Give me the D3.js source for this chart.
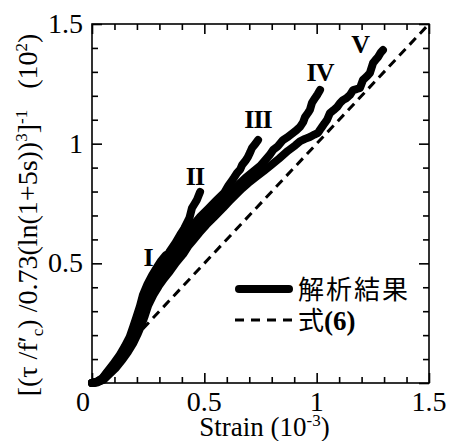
<!DOCTYPE html>
<html>
<head>
<meta charset="utf-8">
<script src="https://cdn.jsdelivr.net/npm/d3@7"></script>
<style>
  html, body { margin: 0; padding: 0; background: #fff; }
  svg { display: block; }
</style>
</head>
<body>
<svg id="chart" width="449" height="441"></svg>
<script>
// Analysis results: one trace per loading stage, [strain (10^-3), value (10^2)]
const curveI = [[0,0],[0.02,0.005],[0.046,0.02],[0.068,0.047],[0.094,0.078],[0.124,0.118],[0.146,0.153],[0.168,0.193],[0.183,0.234],[0.196,0.27],[0.213,0.32],[0.226,0.366],[0.247,0.413],[0.268,0.451],[0.291,0.486],[0.308,0.511],[0.328,0.534]];
const curveII = [[0,0],[0.021,0.005],[0.047,0.019],[0.069,0.045],[0.096,0.075],[0.126,0.114],[0.148,0.149],[0.171,0.187],[0.187,0.225],[0.2,0.262],[0.218,0.312],[0.231,0.358],[0.252,0.404],[0.274,0.443],[0.297,0.477],[0.318,0.509],[0.344,0.547],[0.372,0.586],[0.394,0.622],[0.41,0.645],[0.423,0.669],[0.434,0.69],[0.44,0.712],[0.445,0.731],[0.456,0.748],[0.467,0.765],[0.474,0.782],[0.481,0.798]];
const curveIII = [[0,0],[0.022,0.004],[0.049,0.017],[0.071,0.042],[0.098,0.071],[0.129,0.109],[0.151,0.142],[0.174,0.18],[0.191,0.217],[0.205,0.251],[0.223,0.301],[0.236,0.347],[0.258,0.393],[0.28,0.43],[0.303,0.464],[0.325,0.493],[0.352,0.531],[0.383,0.568],[0.405,0.606],[0.423,0.627],[0.45,0.66],[0.481,0.694],[0.516,0.727],[0.556,0.765],[0.588,0.794],[0.608,0.826],[0.628,0.852],[0.645,0.877],[0.66,0.893],[0.668,0.911],[0.684,0.93],[0.694,0.944],[0.705,0.966],[0.712,0.982],[0.726,0.998],[0.739,1.015]];
const curveIV = [[0,0],[0.023,0.003],[0.05,0.015],[0.073,0.038],[0.101,0.066],[0.132,0.104],[0.155,0.136],[0.178,0.172],[0.196,0.208],[0.211,0.243],[0.229,0.292],[0.243,0.336],[0.265,0.381],[0.288,0.418],[0.312,0.452],[0.335,0.481],[0.362,0.518],[0.394,0.556],[0.417,0.592],[0.437,0.614],[0.465,0.647],[0.496,0.681],[0.531,0.714],[0.57,0.752],[0.602,0.782],[0.628,0.807],[0.655,0.832],[0.682,0.856],[0.716,0.882],[0.75,0.908],[0.77,0.93],[0.79,0.952],[0.806,0.974],[0.828,0.99],[0.85,1.015],[0.872,1.028],[0.895,1.045],[0.912,1.058],[0.926,1.07],[0.94,1.09],[0.948,1.111],[0.961,1.128],[0.97,1.141],[0.979,1.17],[0.993,1.191],[1.004,1.206],[1.015,1.224]];
const curveV = [[0,0],[0.024,0.003],[0.051,0.013],[0.075,0.035],[0.104,0.061],[0.136,0.098],[0.16,0.13],[0.183,0.165],[0.201,0.2],[0.217,0.235],[0.235,0.281],[0.25,0.324],[0.273,0.368],[0.297,0.405],[0.321,0.437],[0.346,0.466],[0.373,0.502],[0.406,0.539],[0.43,0.574],[0.45,0.596],[0.478,0.628],[0.509,0.661],[0.544,0.694],[0.583,0.731],[0.614,0.762],[0.64,0.787],[0.667,0.812],[0.695,0.835],[0.729,0.86],[0.764,0.885],[0.797,0.91],[0.832,0.937],[0.872,0.97],[0.905,0.993],[0.926,1.01],[0.948,1.02],[0.97,1.028],[0.99,1.038],[1.006,1.045],[1.015,1.058],[1.024,1.07],[1.035,1.085],[1.046,1.099],[1.059,1.128],[1.075,1.14],[1.091,1.153],[1.104,1.17],[1.117,1.182],[1.132,1.19],[1.148,1.203],[1.162,1.224],[1.178,1.228],[1.193,1.233],[1.206,1.266],[1.222,1.28],[1.237,1.295],[1.251,1.337],[1.262,1.35],[1.273,1.362],[1.285,1.38],[1.295,1.391]];

// Equation (6): straight line
const equation6 = [[0.18,0.18],[1.5,1.5]];

// Stage labels and their anchor positions (data units)
const stageNames = ["I", "II", "III", "IV", "V"];
const stageLabelX = [0.249, 0.458, 0.739, 1.015, 1.193];
const stageLabelY = [0.526, 0.865, 1.103, 1.300, 1.416];

// Axis ticks
const majorTicks = [0, 0.5, 1, 1.5];
const minorTicks = [0.1,0.2,0.3,0.4,0.6,0.7,0.8,0.9,1.1,1.2,1.3,1.4];
const xTickLabels = ["0.5", "1", "1.5"];
const yTickLabels = ["0.5", "1", "1.5"];

const SERIF = "Liberation Serif";
const JP = "Noto Sans CJK JP";

const svg = d3.select("#chart");
const W = 449, H = 441;
const margin = {left: 92, top: 24, right: 20, bottom: 58};
const x = d3.scaleLinear().domain([0, 1.5]).range([margin.left, W - margin.right]);
const y = d3.scaleLinear().domain([0, 1.5]).range([H - margin.bottom, margin.top]);

const line = d3.line().x(d => x(d[0])).y(d => y(d[1]));

// dashed reference line
svg.append("path")
  .attr("d", line(equation6))
  .attr("fill", "none").attr("stroke", "#000")
  .attr("stroke-width", 3).attr("stroke-dasharray", "9,6");

// analysis traces
[curveV, curveIV, curveIII, curveII, curveI].forEach(c => {
  svg.append("path")
    .attr("d", line(c))
    .attr("fill", "none").attr("stroke", "#000")
    .attr("stroke-width", 8)
    .attr("stroke-linejoin", "round").attr("stroke-linecap", "round");
});

// frame
svg.append("rect")
  .attr("x", x(0)).attr("y", y(1.5))
  .attr("width", x(1.5) - x(0)).attr("height", y(0) - y(1.5))
  .attr("fill", "none").attr("stroke", "#000").attr("stroke-width", 1.6);

// inward ticks on all four sides
function addAxis(ax, tx, ty) {
  const g = svg.append("g").attr("transform", `translate(${tx},${ty})`).call(ax);
  g.select(".domain").remove();
  g.selectAll("line").attr("stroke", "#000").attr("stroke-width", 1.6);
}
addAxis(d3.axisBottom(x).tickValues(majorTicks).tickSize(-10).tickFormat(""), 0, y(0));
addAxis(d3.axisBottom(x).tickValues(minorTicks).tickSize(-6).tickFormat(""), 0, y(0));
addAxis(d3.axisTop(x).tickValues(majorTicks).tickSize(-10).tickFormat(""), 0, y(1.5));
addAxis(d3.axisTop(x).tickValues(minorTicks).tickSize(-6).tickFormat(""), 0, y(1.5));
addAxis(d3.axisLeft(y).tickValues(majorTicks).tickSize(-10).tickFormat(""), x(0), 0);
addAxis(d3.axisLeft(y).tickValues(minorTicks).tickSize(-6).tickFormat(""), x(0), 0);
addAxis(d3.axisRight(y).tickValues(majorTicks).tickSize(-10).tickFormat(""), x(1.5), 0);
addAxis(d3.axisRight(y).tickValues(minorTicks).tickSize(-6).tickFormat(""), x(1.5), 0);

// tick labels
const fs = 28;
svg.selectAll(".xl").data(xTickLabels).enter().append("text")
  .attr("font-family", SERIF).attr("x", d => x(+d)).attr("y", y(0) + 28)
  .attr("text-anchor", "middle").attr("font-size", fs).text(d => d);
svg.selectAll(".yl").data(yTickLabels).enter().append("text")
  .attr("font-family", SERIF).attr("x", x(0) - 9).attr("y", d => y(+d) + 9)
  .attr("text-anchor", "end").attr("font-size", fs).text(d => d);
svg.append("text").attr("font-family", SERIF)
  .attr("x", x(0) - 9).attr("y", y(0) + 28)
  .attr("text-anchor", "middle").attr("font-size", fs).text("0");

// x title
const xt = svg.append("text").attr("font-family", SERIF)
  .attr("x", (x(0) + x(1.5)) / 2 + 4).attr("y", H - 5)
  .attr("text-anchor", "middle").attr("font-size", 27);
xt.append("tspan").text("Strain (10");
xt.append("tspan").attr("dy", -10).attr("font-size", 17).text("-3");
xt.append("tspan").attr("dy", 10).text(")");

// y title (rotated)
const yt = svg.append("text").attr("font-family", SERIF)
  .attr("transform", `translate(37,${(5 + 425) / 2}) rotate(-90)`)
  .attr("text-anchor", "middle").attr("font-size", 28);
yt.append("tspan").text("[(τ /f′");
yt.append("tspan").attr("dy", 6).attr("font-size", 17).text("c");
yt.append("tspan").attr("dy", -6).text(") /0.73(ln(1+5s))");
yt.append("tspan").attr("dy", -10).attr("font-size", 17).text("3");
yt.append("tspan").attr("dy", 10).text("]");
yt.append("tspan").attr("dy", -10).attr("font-size", 17).text("-1");
yt.append("tspan").attr("dy", 10).text("\u00a0\u00a0\u00a0(10");
yt.append("tspan").attr("dy", -10).attr("font-size", 17).text("2");
yt.append("tspan").attr("dy", 10).text(")");

// stage labels
svg.selectAll(".stage").data(stageNames).enter().append("text")
  .attr("font-family", SERIF)
  .attr("x", (d, i) => x(stageLabelX[i])).attr("y", (d, i) => y(stageLabelY[i]) + 9)
  .attr("text-anchor", "middle").attr("font-size", 26).attr("font-weight", "bold")
  .attr("letter-spacing", -1).text(d => d);

// legend
const lg = svg.append("g");
const legX0 = 235, legX1 = 293;
const legY = [289, 320];
lg.append("line").attr("x1", legX0 + 4).attr("x2", legX1 - 4).attr("y1", legY[0]).attr("y2", legY[0])
  .attr("stroke", "#000").attr("stroke-width", 8).attr("stroke-linecap", "round");
lg.append("line").attr("x1", legX0).attr("x2", legX1).attr("y1", legY[1]).attr("y2", legY[1])
  .attr("stroke", "#000").attr("stroke-width", 3).attr("stroke-dasharray", "9,7");
lg.append("text").attr("font-family", JP).attr("x", 298).attr("y", legY[0] + 10)
  .attr("font-size", 26).attr("letter-spacing", 2).text("解析結果");
const t2 = lg.append("text").attr("x", 298).attr("y", legY[1] + 10).attr("font-size", 26);
t2.append("tspan").attr("font-family", JP).text("式");
t2.append("tspan").attr("font-family", SERIF).attr("font-weight", "bold").attr("font-size", 27).text("(6)");
</script>
</body>
</html>
